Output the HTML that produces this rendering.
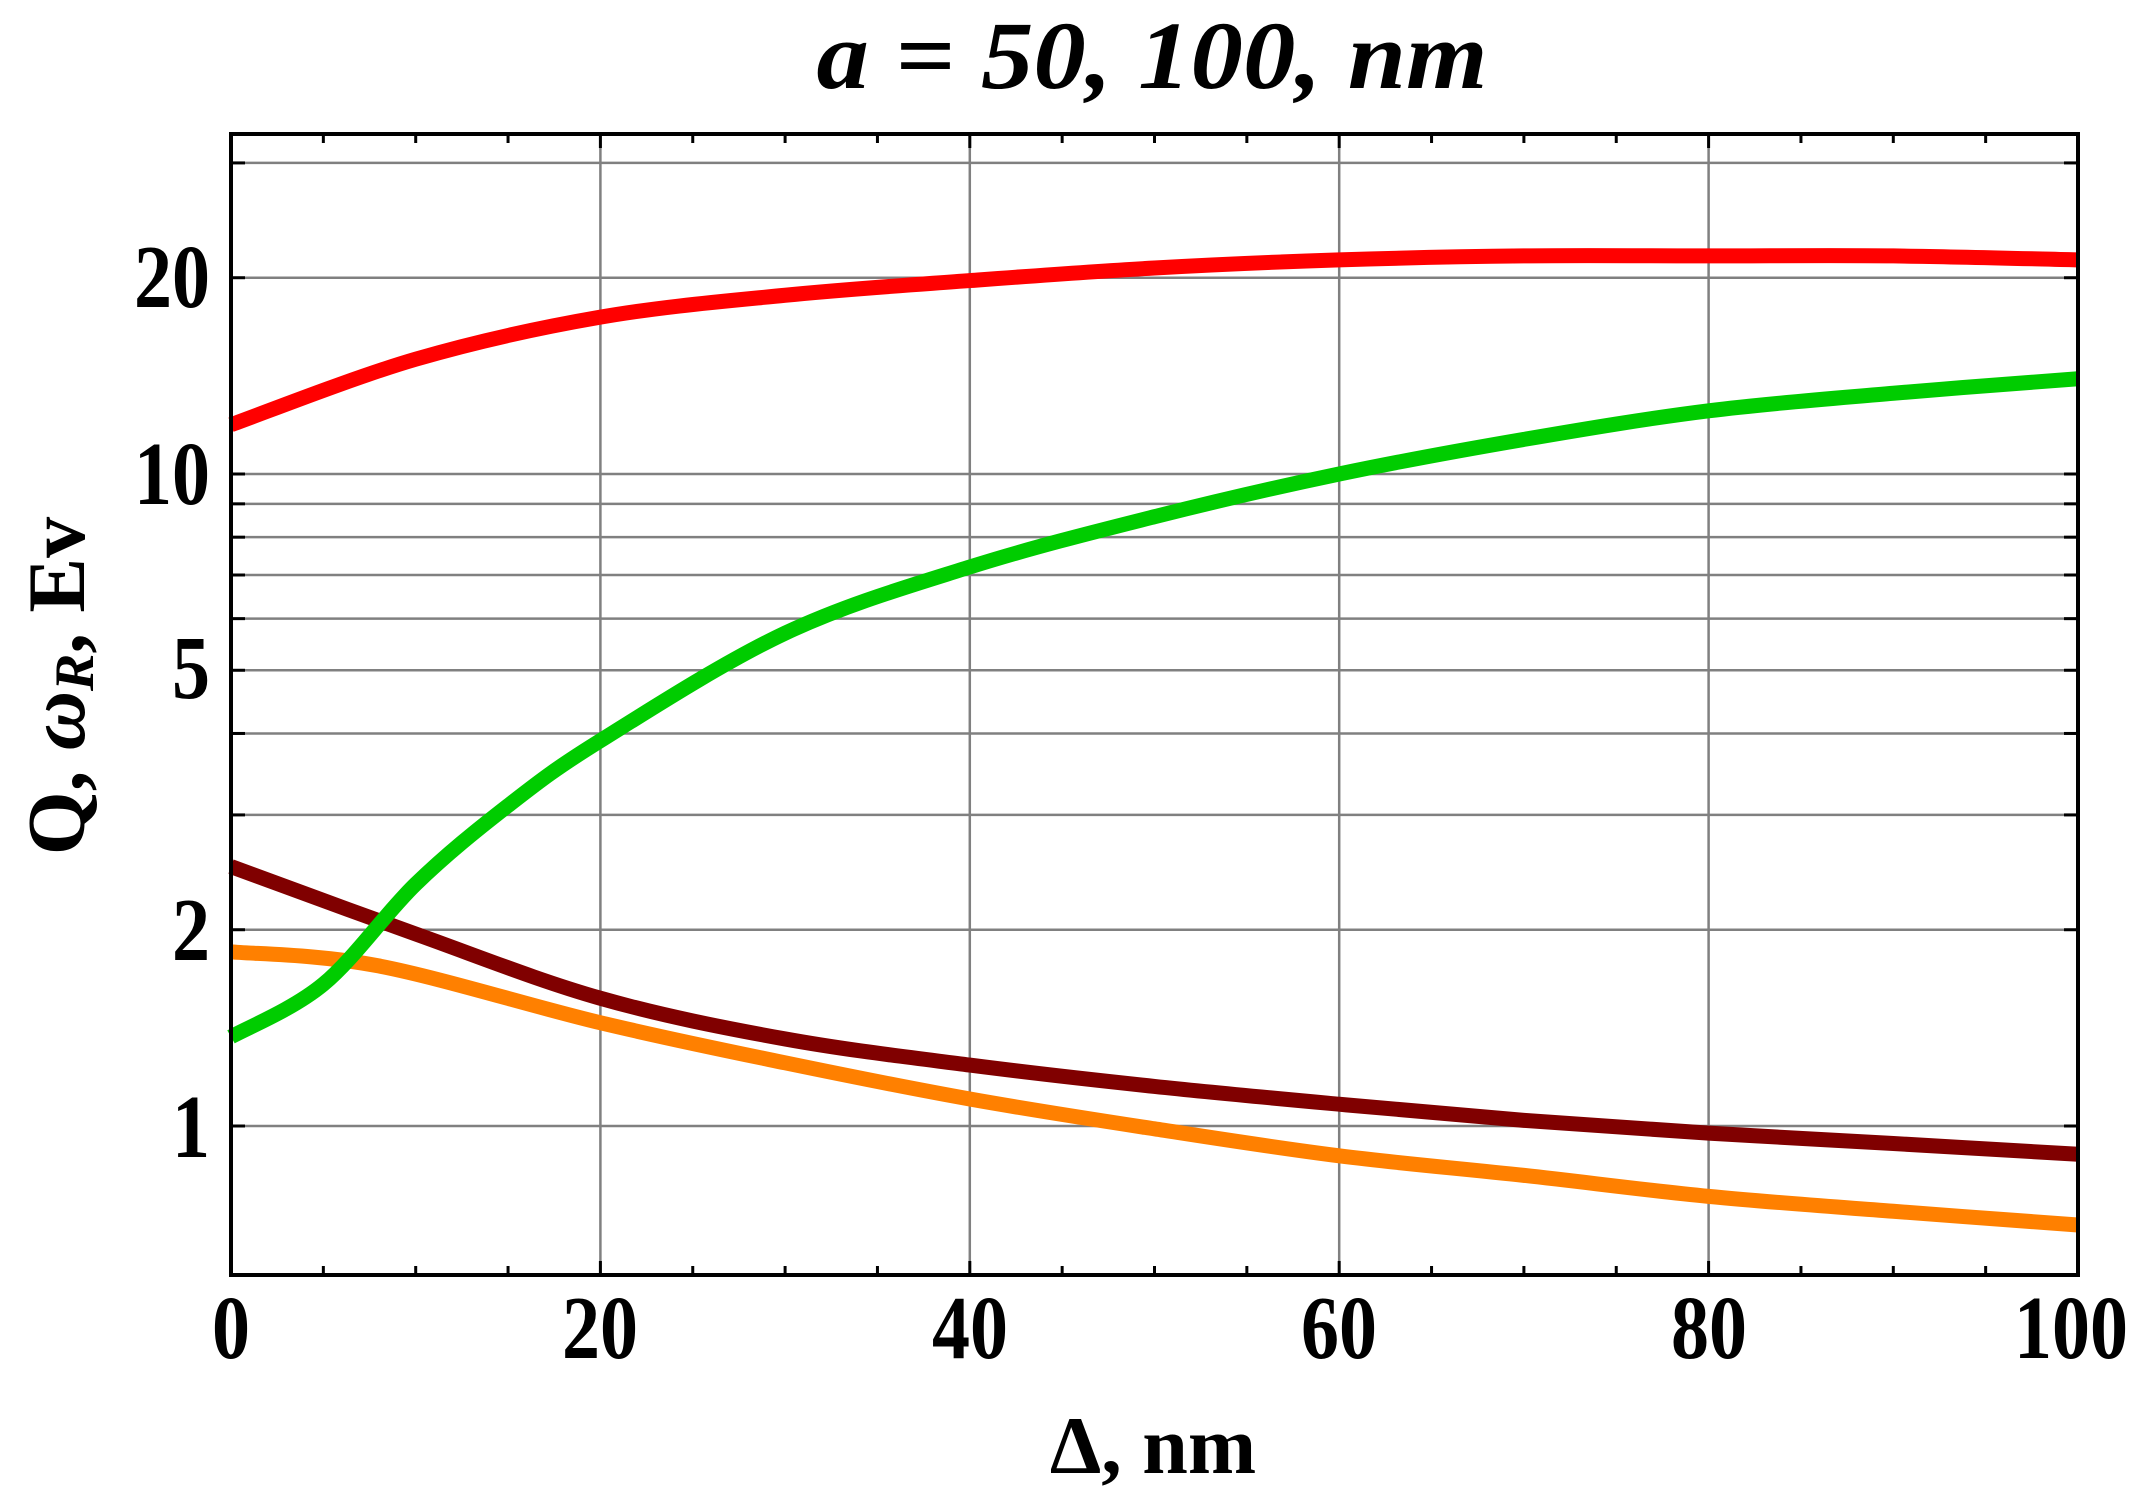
<!DOCTYPE html>
<html><head><meta charset="utf-8"><style>
html,body{margin:0;padding:0;background:#fff;}
svg{display:block;}
text{font-family:"Liberation Serif",serif;font-weight:bold;fill:#000;}
</style></head><body>
<svg id="s" width="2152" height="1511" viewBox="0 0 2152 1511" xmlns="http://www.w3.org/2000/svg">
<rect width="2152" height="1511" fill="#fff"/>
<g id="grid" stroke="#808080" stroke-width="2.5"></g>
<g id="curves" fill="none" stroke-linejoin="round" stroke-linecap="butt"></g>
<rect x="231" y="134" width="1847" height="1141" fill="none" stroke="#000" stroke-width="4"/>
<g id="ticks" stroke="#000" stroke-width="3"></g>
<text x="1152" y="88" font-size="96" font-style="italic" text-anchor="middle" textLength="671" lengthAdjust="spacingAndGlyphs">a = 50, 100, nm</text>
<g font-size="90" text-anchor="middle">
<text x="231" y="1358" textLength="38" lengthAdjust="spacingAndGlyphs">0</text>
<text x="600" y="1358" textLength="76" lengthAdjust="spacingAndGlyphs">20</text>
<text x="970" y="1358" textLength="76" lengthAdjust="spacingAndGlyphs">40</text>
<text x="1339" y="1358" textLength="76" lengthAdjust="spacingAndGlyphs">60</text>
<text x="1709" y="1358" textLength="76" lengthAdjust="spacingAndGlyphs">80</text>
<text x="2071" y="1358" textLength="114" lengthAdjust="spacingAndGlyphs">100</text>
</g>
<g font-size="90" text-anchor="end">
<text x="210" y="307" textLength="76" lengthAdjust="spacingAndGlyphs">20</text>
<text x="210" y="504" textLength="76" lengthAdjust="spacingAndGlyphs">10</text>
<text x="210" y="698" textLength="38" lengthAdjust="spacingAndGlyphs">5</text>
<text x="210" y="960" textLength="38" lengthAdjust="spacingAndGlyphs">2</text>
<text x="210" y="1157" textLength="38" lengthAdjust="spacingAndGlyphs">1</text>
</g>
<text x="1153" y="1473" font-size="82" text-anchor="middle">Δ, nm</text>
<text transform="translate(84,686) rotate(-90)" font-size="82" text-anchor="middle">Q, <tspan font-style="italic">ω</tspan><tspan font-style="italic" font-size="56" dy="9">R</tspan><tspan dy="-9">, Ev</tspan></text>
</svg>
<script>
var X0=231,X1=2078,Y1=1126,D=652;
function px(x){return X0+(X1-X0)*x/100;}
function py(v){return Y1-D*Math.log10(v);}
var g=document.getElementById('grid'),t=document.getElementById('ticks'),c=document.getElementById('curves');
var ns="http://www.w3.org/2000/svg";
function line(p,x1,y1,x2,y2){var l=document.createElementNS(ns,'line');l.setAttribute('x1',x1);l.setAttribute('y1',y1);l.setAttribute('x2',x2);l.setAttribute('y2',y2);p.appendChild(l);}
[1,2,3,4,5,6,7,8,9,10,20,30].forEach(function(v){line(g,X0,py(v),X1,py(v));line(t,X0,py(v),X0+14,py(v));line(t,X1,py(v),X1-14,py(v));});
[20,40,60,80].forEach(function(x){line(g,px(x),134,px(x),1275);});
for(var x=5;x<100;x+=5){var L=(x%20==0)?14:9;line(t,px(x),1275,px(x),1275-L);line(t,px(x),134,px(x),134+L);}
function curve(pts,col){
 var P=pts.map(function(p){return [px(p[0]),py(p[1])];});
 var d="M"+P[0][0]+","+P[0][1];
 for(var i=0;i<P.length-1;i++){
  var p0=P[Math.max(0,i-1)],p1=P[i],p2=P[i+1],p3=P[Math.min(P.length-1,i+2)];
  var c1x=p1[0]+(p2[0]-p0[0])/6,c1y=p1[1]+(p2[1]-p0[1])/6;
  var c2x=p2[0]-(p3[0]-p1[0])/6,c2y=p2[1]-(p3[1]-p1[1])/6;
  d+=" C"+c1x+","+c1y+" "+c2x+","+c2y+" "+p2[0]+","+p2[1];
 }
 var e=document.createElementNS(ns,'path');e.setAttribute('d',d);e.setAttribute('stroke',col);e.setAttribute('stroke-width','15');c.appendChild(e);
}
curve([[0,1.85],[8,1.76],[20,1.44],[30,1.25],[40,1.1],[50,0.99],[60,0.9],[70,0.84],[80,0.78],[90,0.74],[100,0.705]],"#ff8000");
curve([[0,2.5],[10,1.97],[20,1.57],[30,1.36],[40,1.24],[50,1.15],[60,1.08],[70,1.02],[80,0.975],[90,0.94],[100,0.905]],"#800000");
curve([[0,1.37],[5,1.65],[10,2.35],[15,3.1],[20,3.9],[30,5.7],[40,7.2],[50,8.6],[60,10],[70,11.3],[80,12.5],[90,13.3],[100,14]],"#00cc00");
curve([[0,11.9],[10,15],[20,17.4],[30,18.8],[40,19.8],[50,20.7],[60,21.3],[70,21.6],[80,21.6],[90,21.6],[100,21.3]],"#ff0000");
</script>
</body></html>
